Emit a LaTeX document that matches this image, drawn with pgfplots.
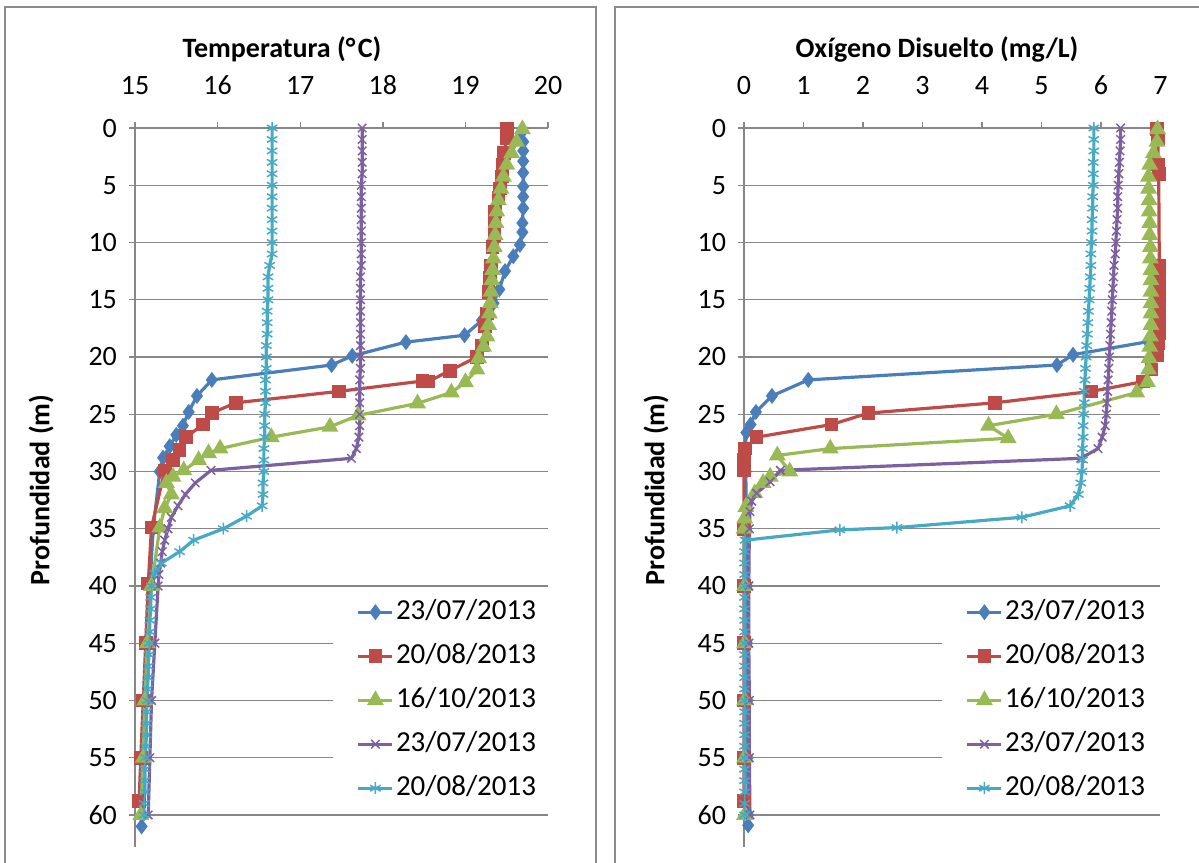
\documentclass[border=0pt]{standalone}
\usepackage{fontspec}
\setmainfont{Carlito}
\usepackage{pgfplots}
\pgfplotsset{compat=1.18}

\definecolor{cA}{HTML}{4A7EBB}
\definecolor{cB}{HTML}{BE4B48}
\definecolor{cC}{HTML}{98B954}
\definecolor{cD}{HTML}{7D60A0}
\definecolor{cE}{HTML}{46AAC5}
\definecolor{gridc}{HTML}{878787}
\definecolor{framec}{HTML}{8C8C8C}

\pgfplotsset{
  prof/.style={
    scale only axis, height=359.5pt,
    y dir=reverse, ymin=0, ymax=62.8, ytick={0,5,...,60},
    axis x line*=top, axis y line*=left,
    tick align=outside, major tick length=3pt,
    ymajorgrids, grid style={line width=0.7pt, color=gridc},
    axis line style={line width=0.7pt, color=gridc},
    major tick style={line width=0.7pt, color=gridc},
    tick label style={font=\fontsize{14}{17}\selectfont},
    yticklabel style={xshift=-2.5pt},
    xticklabel style={yshift=10pt},
    /pgf/number format/assume math mode=true,
    clip=false,
    legend cell align=left,
    legend style={draw=none, fill=white, anchor=north west,
      inner xsep=12pt, inner ysep=3pt, outer sep=0pt,
      font=\fontsize{14.5}{17}\selectfont, row sep=5pt, column sep=0pt,
      nodes={inner xsep=1pt, inner ysep=2pt, text height=10pt, text depth=3pt}},
    legend image code/.code={\draw[mark repeat=2,mark phase=2,##1] plot coordinates {(0pt,0pt) (8.5pt,0pt) (17pt,0pt)};},
  },
  sA/.style={color=cA, line width=1.6pt, mark=diamond*, mark size=2.7pt, mark options={solid}},
  sB/.style={color=cB, line width=1.6pt, mark=square*, mark size=2.6pt, mark options={solid}},
  sC/.style={color=cC, line width=1.6pt, mark=triangle*, mark size=3.3pt, mark options={solid}},
  sD/.style={color=cD, line width=1.6pt, mark=x, mark size=3pt, mark options={solid, line width=0.75pt}},
  sE/.style={color=cE, line width=1.6pt, mark=asterisk, mark size=3pt, mark options={solid, line width=0.75pt}},
}

\begin{document}
\begin{tikzpicture}
\useasboundingbox (0,0) rectangle (599.5pt,-431pt);
\draw[line width=0.75pt, color=framec] (2.5pt,-3.5pt) rectangle (298pt,-470pt);
\draw[line width=0.75pt, color=framec] (307.5pt,-3.5pt) rectangle (640pt,-470pt);

% Temperatura
\begin{axis}[prof, at={(67.5pt,-423.5pt)}, anchor=south west, width=206.5pt,
  xmin=15, xmax=20, xtick={15,16,...,20},
  legend style={at={(axis description cs:0.479,0.3586)}}]
\addplot[sA] coordinates {
 (19.68,0.4)(19.70,1.2)(19.70,2.0)(19.70,2.9)(19.70,3.9)(19.70,5.1)(19.70,6.0)(19.70,7.0)
 (19.69,8.3)(19.69,9.1)(19.66,10.2)(19.58,11.2)(19.48,12.5)(19.41,14.1)(19.34,15.3)(19.20,16.8)
 (18.99,18.1)(18.28,18.7)(17.63,19.9)(17.38,20.7)(15.93,22.0)(15.75,23.4)(15.65,24.8)(15.58,26.0)
 (15.50,26.8)(15.42,27.8)(15.34,28.8)(15.30,30)(15.22,35)(15.18,40)(15.15,45)(15.12,50)
 (15.10,55)(15.08,60)(15.08,61)};
\addlegendentry{23/07/2013}
\addplot[sB] coordinates {
 (19.50,0.1)(19.50,0.9)(19.47,2.2)(19.45,3.2)(19.44,4.25)(19.42,5.3)(19.40,6.1)(19.36,7.3)
 (19.35,8.3)(19.35,9.35)(19.33,10.4)(19.31,12.0)(19.30,13.1)(19.28,14.3)(19.26,16.2)(19.24,17.35)
 (19.20,19.0)(19.14,20.0)(18.81,21.2)(18.55,22.15)(18.48,22.1)(17.47,23.0)(16.22,24.0)(15.93,24.9)
 (15.82,25.9)(15.62,27.0)(15.54,28.1)(15.46,29.0)(15.36,29.9)(15.20,34.9)(15.16,39.8)(15.13,45)
 (15.10,50)(15.07,55)(15.05,58.8)};
\addlegendentry{20/08/2013}
\addplot[sC] coordinates {
 (19.69,0.1)(19.62,1.2)(19.56,2.2)(19.50,3.2)(19.46,4.25)(19.43,5.3)(19.40,6.3)(19.38,7.3)
 (19.37,8.3)(19.36,9.35)(19.35,10.4)(19.34,11.4)(19.33,12.4)(19.32,13.3)(19.31,14.3)(19.30,15.3)
 (19.29,16.2)(19.28,17.2)(19.26,18.2)(19.22,19.1)(19.16,20.1)(19.14,21.1)(19.00,22.2)(18.83,23.1)
 (18.42,24.05)(17.70,25.1)(17.36,26.1)(16.65,27.0)(16.03,28.0)(15.89,28.4)(15.77,29.0)(15.59,29.9)
 (15.46,30.45)(15.38,31.0)(15.44,32.0)(15.36,33.2)(15.30,34.9)(15.20,40)(15.15,45)(15.12,50)
 (15.10,55)(15.07,60)};
\addlegendentry{16/10/2013}
\addplot[sD] coordinates {
 (17.75,0)(17.75,1)(17.75,2)(17.75,3)(17.75,4)(17.74,5)(17.74,6)(17.74,7)(17.74,8)(17.74,9)
 (17.74,10)(17.74,11)(17.74,12)(17.73,13)(17.73,14)(17.73,15)(17.73,16)(17.73,17)(17.73,18)
 (17.73,19)(17.73,20)(17.73,21)(17.72,22)(17.72,23)(17.72,24)(17.72,25)(17.72,26)(17.71,27)
 (17.68,28)(17.62,28.85)(15.92,29.9)(15.73,31)(15.61,32)(15.52,33)(15.44,34)(15.40,35)(15.36,36)
 (15.33,37)(15.31,38)(15.29,39)(15.28,40)(15.24,45)(15.20,50)(15.18,55)(15.16,60)};
\addlegendentry{23/07/2013}
\addplot[sE] coordinates {
 (16.66,0)(16.66,1)(16.66,2)(16.66,3)(16.66,4)(16.66,5)(16.66,6)(16.66,7)(16.66,8)(16.66,9)
 (16.66,10)(16.66,11)(16.63,12)(16.61,13)(16.61,14)(16.61,15)(16.60,16)(16.60,17)(16.60,18)
 (16.59,19)(16.59,20)(16.59,21)(16.58,22)(16.58,23)(16.58,24)(16.57,25)(16.57,26)(16.57,27)
 (16.56,28)(16.56,29)(16.56,30)(16.55,31)(16.55,32)(16.54,33)(16.35,33.9)(16.07,35)(15.71,36)
 (15.54,37)(15.32,38)(15.24,38.9)(15.20,40)(15.19,41)(15.19,42)(15.18,43)(15.18,44)(15.17,45)
 (15.17,46)(15.16,47)(15.16,48)(15.15,49)(15.15,50)(15.14,51)(15.14,52)(15.14,53)(15.13,54)
 (15.13,55)(15.12,56)(15.12,57)(15.12,58)(15.11,59)(15.11,60)};
\addlegendentry{20/08/2013}
\end{axis}

% Oxigeno
\begin{axis}[prof, at={(372pt,-423.5pt)}, anchor=south west, width=208.25pt,
  xmin=0, xmax=7, xtick={0,1,...,7},
  legend style={at={(axis description cs:0.475,0.3586)}}]
\addplot[sA] coordinates {
 (6.79,18.66)(5.53,19.8)(5.26,20.7)(1.08,22.0)(0.47,23.4)(0.20,24.8)(0.11,25.9)(0.04,26.6)
 (0.02,27.9)(0.02,28.8)(0.03,30)(0.04,35)(0.05,40)(0.05,45)(0.06,50)(0.06,55)(0.07,60)(0.07,60.9)};
\addlegendentry{23/07/2013}
\addplot[sB] coordinates {
 (6.94,0.1)(6.96,0.9)(6.96,3.2)(6.97,4.0)(6.98,12.0)(6.98,13.0)(6.98,14.1)(6.98,15.1)
 (6.98,16.1)(6.98,16.9)(6.98,17.9)(6.96,18.8)(6.94,19.8)(6.85,21.1)(6.71,22.15)(5.84,23.0)
 (4.22,24.0)(2.09,24.9)(1.47,25.9)(0.21,27.0)(0.02,28.0)(0.00,29.0)(0.00,29.9)(0.00,35)
 (0.00,40)(0.00,45)(0.00,50)(0.00,55)(0.00,58.8)};
\addlegendentry{20/08/2013}
\addplot[sC] coordinates {
 (6.95,0.1)(6.94,1.2)(6.88,2.2)(6.82,3.2)(6.80,4.25)(6.80,5.3)(6.81,6.3)(6.81,7.3)
 (6.82,8.3)(6.82,9.35)(6.83,10.4)(6.83,11.4)(6.84,12.4)(6.84,13.3)(6.84,14.3)(6.84,15.3)
 (6.84,16.2)(6.84,17.2)(6.83,18.2)(6.82,19.1)(6.81,20.1)(6.80,21.1)(6.78,22.2)(6.60,23.1)
 (5.25,25.0)(4.11,26.0)(4.44,27.1)(1.45,28.0)(0.56,28.6)(0.77,30.0)(0.44,30.45)(0.32,31.0)
 (0.18,31.9)(0.03,33.1)(0.01,34.1)(0.00,35)(0.01,40)(0.01,45)(0.01,50)(0.01,55)(0.01,60)};
\addlegendentry{16/10/2013}
\addplot[sD] coordinates {
 (6.33,0)(6.33,1)(6.32,2)(6.31,3)(6.30,4)(6.29,5)(6.28,6)(6.28,7)(6.27,8)(6.26,9)(6.25,10)
 (6.24,11)(6.22,12)(6.21,13)(6.20,14)(6.19,15)(6.18,16)(6.17,17)(6.16,18)(6.15,19)(6.14,20)
 (6.13,21)(6.12,22)(6.11,23)(6.10,24)(6.09,25)(6.07,26)(6.02,27)(5.95,28)(5.66,28.85)
 (0.61,29.9)(0.44,30.9)(0.21,31.9)(0.13,32.6)(0.10,33.5)(0.09,35)(0.08,40)(0.08,45)
 (0.09,50)(0.09,55)(0.10,60)};
\addlegendentry{23/07/2013}
\addplot[sE] coordinates {
 (5.88,0)(5.88,1)(5.88,2)(5.87,3)(5.87,4)(5.87,5)(5.86,6)(5.86,7)(5.85,8)(5.85,9)(5.84,10)
 (5.83,11)(5.83,12)(5.82,13)(5.81,14)(5.80,15)(5.79,16)(5.78,17)(5.77,18)(5.76,19)(5.75,20)
 (5.74,21)(5.73,22)(5.72,23)(5.72,24)(5.71,25)(5.70,26)(5.70,27)(5.69,28)(5.69,29)(5.68,30)
 (5.66,31)(5.62,32)(5.48,33)(4.67,34)(2.57,34.9)(1.61,35.1)(0.02,36)(0.01,37)(0.01,38)
 (0.01,39)(0.01,40)(0.01,41)(0.01,42)(0.01,43)(0.01,44)(0.01,45)(0.01,46)(0.01,47)(0.01,48)
 (0.01,49)(0.01,50)(0.01,51)(0.01,52)(0.01,53)(0.01,54)(0.01,55)(0.01,56)(0.01,57)(0.01,58)
 (0.01,59)(0.01,60)};
\addlegendentry{20/08/2013}
\end{axis}

\node[font=\bfseries\fontsize{14}{17}\selectfont, anchor=base] at (141pt,-28.5pt) {Temperatura (°\kern1.2pt C)};
\node[font=\bfseries\fontsize{14}{17}\selectfont, anchor=base] at (468.5pt,-28.5pt) {Oxígeno Disuelto (mg/L)};
\node[font=\bfseries\fontsize{14}{17}\selectfont, rotate=90] at (20.5pt,-245pt) {Profundidad (m)};
\node[font=\bfseries\fontsize{14}{17}\selectfont, rotate=90] at (328pt,-245pt) {Profundidad (m)};
\end{tikzpicture}
\end{document}
